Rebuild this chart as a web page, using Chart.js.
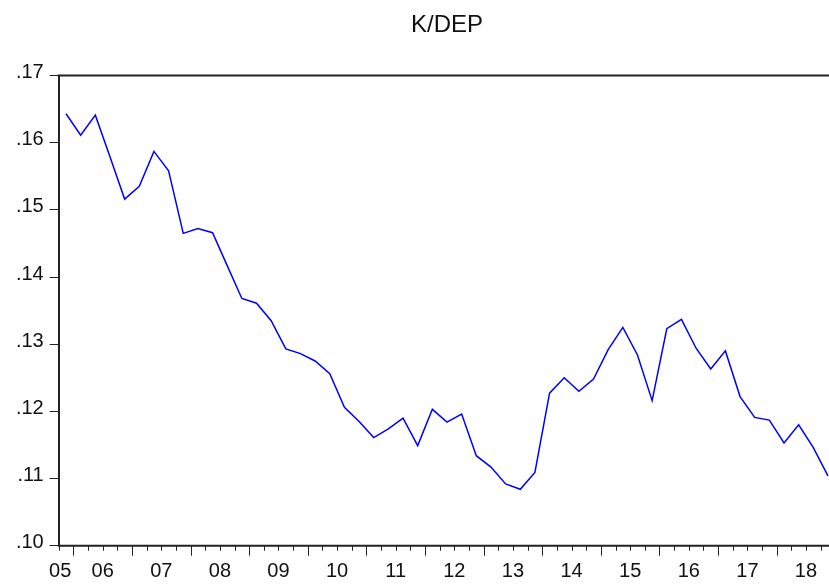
<!DOCTYPE html>
<html>
<head>
<meta charset="utf-8">
<script src="https://cdn.jsdelivr.net/npm/chart.js@4"></script>
<style>
  html, body { margin: 0; padding: 0; background: #fff; overflow: hidden; }
  #wrap { width: 829px; height: 588px; overflow: hidden; }
</style>
</head>
<body>
<div id="wrap"><canvas id="kdepChart" width="838" height="588"></canvas></div>
<script>
// quarterly observations, 2005Q4 .. 2018Q4
const quarters = [
    "2005Q4",
    "2006Q1", "2006Q2", "2006Q3", "2006Q4",
    "2007Q1", "2007Q2", "2007Q3", "2007Q4",
    "2008Q1", "2008Q2", "2008Q3", "2008Q4",
    "2009Q1", "2009Q2", "2009Q3", "2009Q4",
    "2010Q1", "2010Q2", "2010Q3", "2010Q4",
    "2011Q1", "2011Q2", "2011Q3", "2011Q4",
    "2012Q1", "2012Q2", "2012Q3", "2012Q4",
    "2013Q1", "2013Q2", "2013Q3", "2013Q4",
    "2014Q1", "2014Q2", "2014Q3", "2014Q4",
    "2015Q1", "2015Q2", "2015Q3", "2015Q4",
    "2016Q1", "2016Q2", "2016Q3", "2016Q4",
    "2017Q1", "2017Q2", "2017Q3", "2017Q4",
    "2018Q1", "2018Q2", "2018Q3", "2018Q4"
];

const kdep = [
    0.1643,
    0.1611, 0.1641, 0.1579, 0.1516,
    0.1535, 0.1587, 0.1558, 0.1465,
    0.1472, 0.1466, 0.1417, 0.1368,
    0.1361, 0.1335, 0.1293, 0.1286,
    0.1275, 0.1256, 0.1206, 0.1185,
    0.1161, 0.1174, 0.1190, 0.1149,
    0.1203, 0.1184, 0.1196, 0.1134,
    0.1117, 0.1092, 0.1084, 0.1109,
    0.1227, 0.1250, 0.1230, 0.1248,
    0.1292, 0.1325, 0.1284, 0.1216,
    0.1323, 0.1337, 0.1294, 0.1263,
    0.1290, 0.1222, 0.1191, 0.1187,
    0.1153, 0.1180, 0.1146, 0.1104
];

const yTicks = [0.10, 0.11, 0.12, 0.13, 0.14, 0.15, 0.16, 0.17];
const chartTitle = "K/DEP";

const FONT = "'Liberation Sans', Arial, sans-serif";
const AXIS_COLOR = "#222";

// EViews style frame: title, top border, bottom axis with quarter/year ticks
const evFrame = {
    id: 'evFrame',
    afterDraw(chart) {
        const ctx = chart.ctx;
        const area = chart.chartArea;
        const xs = chart.scales.x;
        const step = xs.width / quarters.length;

        ctx.save();
        ctx.strokeStyle = AXIS_COLOR;
        ctx.lineWidth = 2;
        ctx.beginPath();
        ctx.moveTo(area.left - 1, area.top);
        ctx.lineTo(chart.width, area.top);
        ctx.moveTo(area.left - 1, area.bottom);
        ctx.lineTo(chart.width, area.bottom);
        ctx.stroke();

        // quarter boundaries
        ctx.lineWidth = 1;
        const bounds = [];
        for (let i = 0; i <= quarters.length; i++) {
            const x = i < quarters.length
                ? xs.getPixelForValue(i) - step / 2
                : xs.getPixelForValue(quarters.length - 1) + step / 2;
            const major = i < quarters.length && quarters[i].endsWith("Q1");
            bounds.push({ x, major, year: i < quarters.length ? quarters[i].slice(2, 4) : null });
            ctx.beginPath();
            ctx.moveTo(Math.round(x) + 0.5, area.bottom);
            ctx.lineTo(Math.round(x) + 0.5, area.bottom + (major ? 10 : 5));
            ctx.stroke();
        }

        // year labels centred in each year span
        ctx.fillStyle = "#111";
        ctx.font = "20px " + FONT;
        ctx.textBaseline = "alphabetic";
        let start = 0;
        for (let i = 1; i <= quarters.length; i++) {
            const yr = quarters[start].slice(2, 4);
            if (i === quarters.length || quarters[i].slice(2, 4) !== yr) {
                const x0 = bounds[start].x, x1 = bounds[i].x;
                const w = ctx.measureText(yr).width;
                ctx.textAlign = "center";
                let cx = (x0 + x1) / 2;
                if (x1 - x0 < w) cx = x1 - 2 - w / 2;
                ctx.fillText(yr, cx, 577);
                start = i;
            }
        }

        ctx.font = "24px " + FONT;
        ctx.textAlign = "center";
        ctx.fillText(chartTitle, (area.left + area.right) / 2, 32);
        ctx.restore();
    }
};

const ctx = document.getElementById('kdepChart').getContext('2d');
new Chart(ctx, {
    type: 'line',
    data: {
        labels: quarters,
        datasets: [{
            label: chartTitle,
            data: kdep,
            borderColor: '#0000ff',
            borderWidth: 1.5,
            pointRadius: 0,
            tension: 0,
            fill: false
        }]
    },
    options: {
        responsive: false,
        animation: false,
        devicePixelRatio: 1,
        layout: { padding: { left: 0, right: 2.7, top: 75.5, bottom: 42.3 } },
        plugins: {
            legend: { display: false },
            title: { display: false },
            tooltip: { enabled: false }
        },
        scales: {
            x: {
                display: false,
                offset: true
            },
            y: {
                min: yTicks[0],
                max: yTicks[yTicks.length - 1],
                afterFit(scale) { scale.width = 58.7; },
                afterBuildTicks(scale) { scale.ticks = yTicks.map(v => ({ value: v })); },
                border: { display: true, color: AXIS_COLOR, width: 2 },
                grid: {
                    drawOnChartArea: false,
                    drawTicks: true,
                    tickLength: 9,
                    tickColor: AXIS_COLOR,
                    tickWidth: 1
                },
                ticks: {
                    color: '#111',
                    padding: 6,
                    labelOffset: -3,
                    font: { family: FONT, size: 20 },
                    callback: v => Number(v).toFixed(2).replace(/^0/, '')
                }
            }
        }
    },
    plugins: [evFrame]
});
</script>
</body>
</html>
